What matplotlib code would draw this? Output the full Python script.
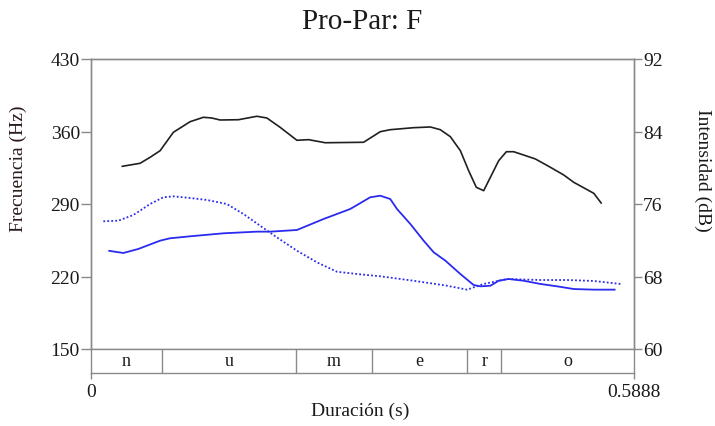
import matplotlib
matplotlib.use("Agg")
import matplotlib.pyplot as plt

plt.rcParams["font.family"] = ["Liberation Serif", "DejaVu Serif"]

# Intensity contour (dB, right axis)
int_t = [0.0340, 0.0532, 0.0641, 0.0750, 0.0894, 0.1075, 0.1220, 0.1311, 0.1401,
         0.1600, 0.1800, 0.1909, 0.2053, 0.2235, 0.2361, 0.2542, 0.2958, 0.3140,
         0.3248, 0.3501, 0.3683, 0.3791, 0.3900, 0.4009, 0.4099, 0.4182, 0.4262,
         0.4335, 0.4425, 0.4508, 0.4588, 0.4823, 0.4986, 0.5131, 0.5240, 0.5457,
         0.5537]
int_db = [80.16, 80.49, 81.15, 81.88, 83.91, 85.08, 85.57, 85.49, 85.27,
          85.30, 85.68, 85.49, 84.46, 83.03, 83.10, 82.76, 82.81, 83.98,
          84.20, 84.42, 84.50, 84.20, 83.43, 81.88, 79.67, 77.84, 77.47,
          78.95, 80.78, 81.77, 81.77, 80.97, 80.05, 79.20, 78.39, 77.18,
          76.11]

# F0 contour, solid
f0a_t = [0.0188, 0.0351, 0.0514, 0.0750, 0.0858, 0.1075, 0.1437, 0.1800, 0.1945,
         0.2235, 0.2524, 0.2814, 0.3031, 0.3140, 0.3248, 0.3321, 0.3466, 0.3610,
         0.3719, 0.3846, 0.4009, 0.4153, 0.4226, 0.4335, 0.4425, 0.4533, 0.4696,
         0.4878, 0.5059, 0.5240, 0.5457, 0.5693]
f0a_hz = [244.9, 242.7, 246.6, 254.6, 256.9, 258.8, 261.7, 263.3, 263.3,
          264.9, 275.5, 285.2, 296.5, 298.0, 294.8, 285.2, 270.7, 254.6,
          243.4, 235.3, 222.4, 211.8, 210.5, 211.1, 215.9, 217.6, 215.9,
          212.8, 210.5, 207.9, 207.3, 207.3]

# F0 contour, dotted
f0b_t = [0.0134, 0.0297, 0.0460, 0.0641, 0.0785, 0.0894, 0.1075, 0.1257, 0.1474,
         0.1655, 0.1836, 0.2017, 0.2235, 0.2452, 0.2669, 0.2886, 0.3140, 0.3501,
         0.3864, 0.4081, 0.4262, 0.4516, 0.4878, 0.5168, 0.5454, 0.5747]
f0b_hz = [273.3, 273.9, 279.4, 290.0, 296.5, 297.4, 295.8, 293.9, 290.0,
          280.3, 269.0, 257.8, 244.9, 233.7, 224.6, 222.4, 220.2, 215.9,
          211.1, 207.3, 212.8, 217.6, 216.6, 216.6, 215.7, 212.8]

# Segment tier
seg_labels = ["n", "u", "m", "e", "r", "o"]
seg_bounds = [0.0, 0.0768, 0.2224, 0.3049, 0.4081, 0.4454, 0.5888]

hz_ticks = [150, 220, 290, 360, 430]
db_ticks = [60, 68, 76, 84, 92]
t_max = 0.5888

W, H = 715, 427
gray = "#8a8a8a"
blue = "#2b2bf0"
txt = "#1a1a1a"

fig = plt.figure(figsize=(W / 100, H / 100), dpi=100)

x0, x1 = 91, 633.5
ytop, ybot, ytier = 60, 350, 374
ax = fig.add_axes([x0 / W, 1 - ybot / H, (x1 - x0) / W, (ybot - ytop) / H])
axt = fig.add_axes([x0 / W, 1 - ytier / H, (x1 - x0) / W, (ytier - ybot) / H])
ax2 = ax.twinx()

ax.plot(f0a_t, f0a_hz, color=blue, lw=1.3, solid_capstyle="butt")
ax.plot(f0b_t, f0b_hz, color=blue, lw=1.3, linestyle=(0, (1, 1.2)))
ax2.plot(int_t, int_db, color="#202020", lw=1.2)

ax.set_xlim(0, t_max)
ax.set_ylim(150, 430)
ax2.set_ylim(60, 92)
ax.set_yticks(hz_ticks)
ax2.set_yticks(db_ticks)
ax.set_xticks([])

for a in (ax, ax2):
    for s in a.spines.values():
        s.set_color(gray)
        s.set_linewidth(1.0)
ax.tick_params(axis="y", length=7, width=1, color=gray, pad=1,
               labelsize=14, labelcolor=txt)
ax2.tick_params(axis="y", length=6, width=1, color=gray, pad=1,
                labelsize=14, labelcolor=txt)

# segment tier under the plot
axt.set_xlim(0, t_max)
axt.set_ylim(0, 1)
axt.set_yticks([])
axt.set_xticks([0, t_max])
axt.set_xticklabels(["0", "0.5888"])
axt.tick_params(axis="x", length=4, width=1, color=gray, pad=3,
                labelsize=14, labelcolor=txt)
axt.spines["top"].set_visible(False)
for s in ("left", "right", "bottom"):
    axt.spines[s].set_color(gray)
    axt.spines[s].set_linewidth(1.0)
for b in seg_bounds[1:-1]:
    axt.axvline(b, color=gray, lw=1.0)
for lab, a, b in zip(seg_labels, seg_bounds[:-1], seg_bounds[1:]):
    axt.text((a + b) / 2, 0.5, lab, ha="center", va="center",
             fontsize=13, color=txt)

fig.text(362 / W, 1 - 22 / H, "Pro-Par: F", ha="center", va="center",
         fontsize=21, color=txt)
fig.text(18 / W, 1 - 169 / H, "Frecuencia (Hz)", rotation=90, ha="center",
         va="center", fontsize=14, color="#2a1a1a")
fig.text(703 / W, 1 - 170 / H, "Intensidad (dB)", rotation=270, ha="center",
         va="center", fontsize=14, color=txt)
fig.text(360 / W, 1 - 411 / H, "Duración (s)", ha="center", va="center",
         fontsize=14, color=txt)

fig.savefig("out.png", dpi=100, facecolor="white")
